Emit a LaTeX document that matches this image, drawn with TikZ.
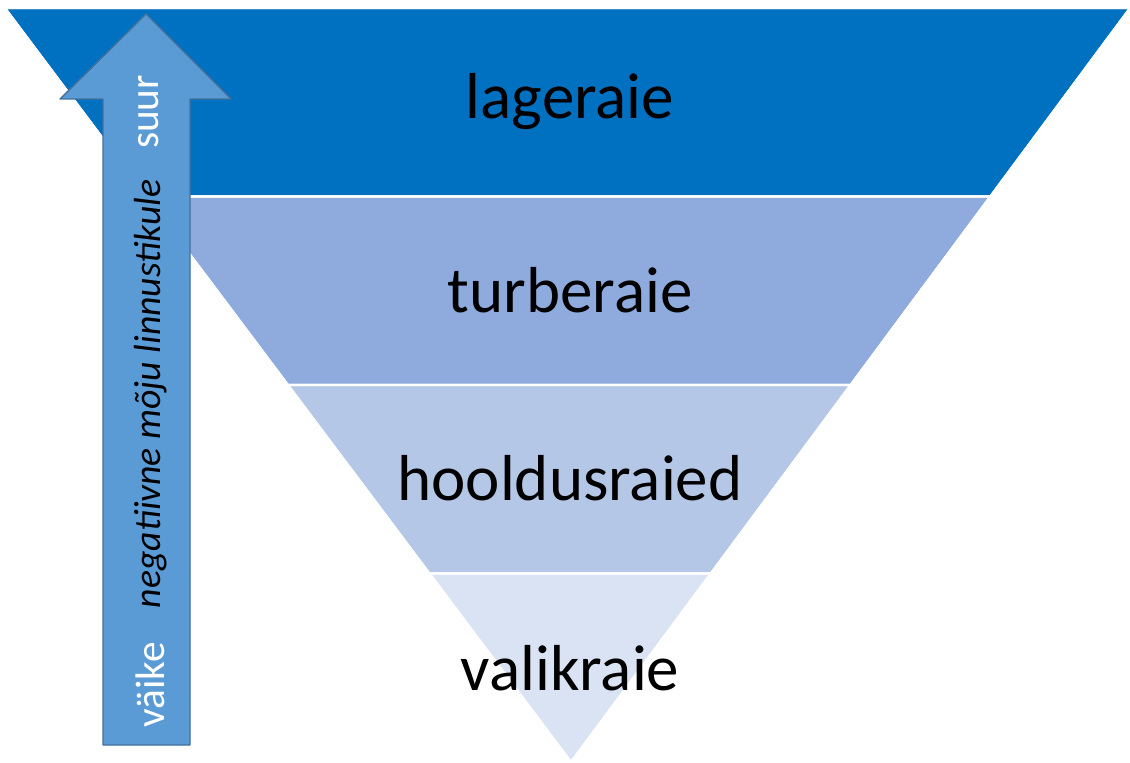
\documentclass[tikz,border=0pt]{standalone}
\usepackage{fontspec}
\setmainfont{Carlito}
\usetikzlibrary{calc}
\definecolor{bandA}{HTML}{0070C0}
\definecolor{bandB}{HTML}{8FAADC}
\definecolor{bandC}{HTML}{B4C7E7}
\definecolor{bandD}{HTML}{DAE3F3}
\definecolor{arrowfill}{HTML}{5B9BD5}
\definecolor{arrowline}{HTML}{41719C}
\tikzset{
  band/.style={draw=white,line width=1.2pt,line join=round},
  bandlabel/.style={font=\fontsize{37}{40}\selectfont,text=black},
  arrowlabel/.style={rotate=90,font=\fontsize{23.5}{26}\selectfont,text=white},
  impactlabel/.style={rotate=90,font=\fontsize{21.5}{24}\itshape\selectfont,text=black}
}
\begin{document}
\begin{tikzpicture}[x=0.02cm,y=-0.02cm,line join=round]
		\useasboundingbox (0,0) rectangle (1130,763);
		\coordinate (tl) at (5,8);
		\coordinate (tr) at (1130,8);
		\coordinate (apex) at (571,762);
		\coordinate (l1) at ($(tl)!0.25!(apex)$);
		\coordinate (r1) at ($(tr)!0.25!(apex)$);
		\coordinate (l2) at ($(tl)!0.5!(apex)$);
		\coordinate (r2) at ($(tr)!0.5!(apex)$);
		\coordinate (l3) at ($(tl)!0.75!(apex)$);
		\coordinate (r3) at ($(tr)!0.75!(apex)$);
		\fill[band,fill=bandA] (tl)--(tr)--(r1)--(l1)--cycle;
		\fill[band,fill=bandB] (l1)--(r1)--(r2)--(l2)--cycle;
		\fill[band,fill=bandC] (l2)--(r2)--(r3)--(l3)--cycle;
		\fill[band,fill=bandD] (l3)--(r3)--(apex)--cycle;
		\draw[band] (tl)--(tr)--(apex)--cycle (l1)--(r1) (l2)--(r2) (l3)--(r3);
		\node[bandlabel] (lageraie) at (570,102) {lageraie};
		\node[bandlabel] (turberaie) at (570,290) {turberaie};
		\node[bandlabel] (hooldusraied) at (570,478) {hooldusraied};
		\node[bandlabel] (valikraie) at (570,668) {valikraie};
		\draw[fill=arrowfill,draw=arrowline,line width=0.8pt]
		(103,745)--(103,99)--(60,99)--(146,14)--(231,99)--(190,99)--(190,745)--cycle;
		\node[arrowlabel] (suur) at (149,112) {suur};
		\node[arrowlabel] (vaike) at (150,685) {väike};
		\node[impactlabel] (moju) at (151,394) {negatiivne mõju linnustikule};
		\end{tikzpicture}
\end{document}
